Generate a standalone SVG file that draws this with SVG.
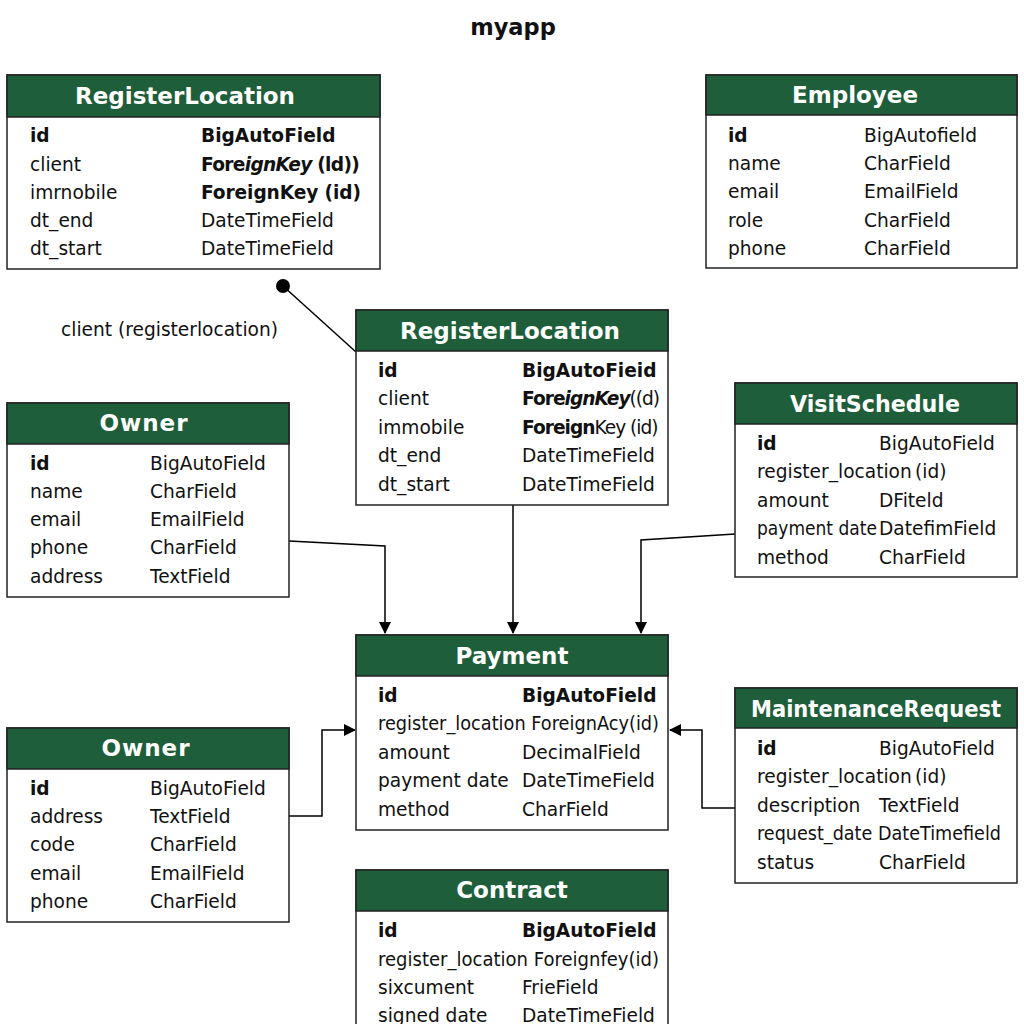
<svg xmlns="http://www.w3.org/2000/svg" width="1024" height="1024" viewBox="0 0 1024 1024">
  <defs>
    <marker id="arrow" viewBox="0 0 12 12" refX="11" refY="6" markerWidth="12" markerHeight="12" markerUnits="userSpaceOnUse" orient="auto">
      <path d="M0,0 L12,6 L0,12 Z" fill="#000"/>
    </marker>
    <style>
      text { font-family: "DejaVu Sans", "Liberation Sans", sans-serif; fill: #111; }
      .box { fill: #fff; stroke: #222; stroke-width: 1.5; }
      .head { fill: #1e5e3a; stroke: #222; stroke-width: 1.5; }
      .title { font-size: 23px; font-weight: bold; fill: #fff; text-anchor: middle; }
      .row { font-size: 18.6px; }
      .b { font-weight: bold; }
      .bi { font-weight: bold; font-style: italic; }
      .edge { fill: none; stroke: #000; stroke-width: 1.5; }
    </style>
  </defs>
  <rect width="1024" height="1024" fill="#fff"/>

  <text x="513" y="35" text-anchor="middle" font-size="22.5" font-weight="bold">myapp</text>

  <!-- connectors -->
  <g id="connectors">
    <line class="edge" x1="283" y1="286" x2="356" y2="352"/>
    <circle cx="283" cy="286" r="7" fill="#000"/>
    <text class="row" x="61" y="336">client (registerlocation)</text>
    <polyline class="edge" points="289,541 385,546 385,633" marker-end="url(#arrow)"/>
    <polyline class="edge" points="513,505 513,633" marker-end="url(#arrow)"/>
    <polyline class="edge" points="735,534 641,540 641,633" marker-end="url(#arrow)"/>
    <polyline class="edge" points="289,816 322,816 322,730 355,730" marker-end="url(#arrow)"/>
    <polyline class="edge" points="735,808 702,808 702,730 670,730" marker-end="url(#arrow)"/>
  </g>

  <!-- RegisterLocation (top left) -->
  <g id="registerlocation-a">
    <rect class="box" x="7" y="75" width="373" height="194"/>
    <rect class="head" x="7" y="75" width="373" height="42"/>
    <text class="title" x="185" y="104">RegisterLocation</text>
    <text class="row b" x="30" y="142">id</text>
    <text class="row b" x="201" y="142">BigAutoField</text>
    <text class="row" x="30" y="171">client</text>
    <text class="row" x="201" y="171" letter-spacing="-0.7"><tspan class="b">Fore</tspan><tspan class="bi">ignKey</tspan><tspan class="b"> (ld))</tspan></text>
    <text class="row" x="30" y="199">imrnobile</text>
    <text class="row b" x="201" y="199" letter-spacing="-0.1">ForeignKey (id)</text>
    <text class="row" x="30" y="227">dt_end</text>
    <text class="row" x="201" y="227">DateTimeField</text>
    <text class="row" x="30" y="255">dt_start</text>
    <text class="row" x="201" y="255">DateTimeField</text>
  </g>

  <!-- Employee -->
  <g id="employee">
    <rect class="box" x="706" y="75" width="311" height="193"/>
    <rect class="head" x="706" y="75" width="311" height="40"/>
    <text class="title" x="855" y="103">Employee</text>
    <text class="row b" x="728" y="142">id</text>
    <text class="row" x="864" y="142">BigAutofield</text>
    <text class="row" x="728" y="170">name</text>
    <text class="row" x="864" y="170">CharField</text>
    <text class="row" x="728" y="198">email</text>
    <text class="row" x="864" y="198">EmailField</text>
    <text class="row" x="728" y="227">role</text>
    <text class="row" x="864" y="227">CharField</text>
    <text class="row" x="728" y="255">phone</text>
    <text class="row" x="864" y="255">CharField</text>
  </g>

  <!-- RegisterLocation (centre) -->
  <g id="registerlocation-b">
    <rect class="box" x="356" y="310" width="312" height="195"/>
    <rect class="head" x="356" y="310" width="312" height="41"/>
    <text class="title" x="510" y="339">RegisterLocation</text>
    <text class="row b" x="378" y="377">id</text>
    <text class="row b" x="522" y="377">BigAutoFieid</text>
    <text class="row" x="378" y="405">client</text>
    <text class="row" x="522" y="405" letter-spacing="-1"><tspan class="b">Fore</tspan><tspan class="bi">ignKey</tspan><tspan>((d)</tspan></text>
    <text class="row" x="378" y="434">immobile</text>
    <text class="row" x="522" y="434" letter-spacing="-1"><tspan class="b">Foreign</tspan><tspan>Key (id)</tspan></text>
    <text class="row" x="378" y="462">dt_end</text>
    <text class="row" x="522" y="462">DateTimeField</text>
    <text class="row" x="378" y="491">dt_start</text>
    <text class="row" x="522" y="491">DateTimeField</text>
  </g>

  <!-- VisitSchedule -->
  <g id="visitschedule">
    <rect class="box" x="735" y="383" width="282" height="194"/>
    <rect class="head" x="735" y="383" width="282" height="41"/>
    <text class="title" x="875" y="412" textLength="170" lengthAdjust="spacingAndGlyphs">VisitSchedule</text>
    <text class="row b" x="757" y="450">id</text>
    <text class="row" x="879" y="450">BigAutoField</text>
    <text class="row" x="757" y="478">register_location</text>
    <text class="row" x="915" y="478">(id)</text>
    <text class="row" x="757" y="507">amount</text>
    <text class="row" x="879" y="507">DFiteld</text>
    <text class="row" x="757" y="535" textLength="120" lengthAdjust="spacingAndGlyphs">payment date</text>
    <text class="row" x="879" y="535">DatefimField</text>
    <text class="row" x="757" y="564">method</text>
    <text class="row" x="879" y="564">CharField</text>
  </g>

  <!-- Owner (upper) -->
  <g id="owner-a">
    <rect class="box" x="7" y="403" width="282" height="194"/>
    <rect class="head" x="7" y="403" width="282" height="41"/>
    <text class="title" x="144" y="431" letter-spacing="1">Owner</text>
    <text class="row b" x="30" y="470">id</text>
    <text class="row" x="150" y="470">BigAutoField</text>
    <text class="row" x="30" y="498">name</text>
    <text class="row" x="150" y="498">CharField</text>
    <text class="row" x="30" y="526">email</text>
    <text class="row" x="150" y="526">EmailField</text>
    <text class="row" x="30" y="554">phone</text>
    <text class="row" x="150" y="554">CharField</text>
    <text class="row" x="30" y="583">address</text>
    <text class="row" x="150" y="583">TextField</text>
  </g>

  <!-- Payment -->
  <g id="payment">
    <rect class="box" x="356" y="635" width="312" height="195"/>
    <rect class="head" x="356" y="635" width="312" height="41"/>
    <text class="title" x="512" y="664">Payment</text>
    <text class="row b" x="378" y="702">id</text>
    <text class="row b" x="522" y="702">BigAutoField</text>
    <text class="row" x="378" y="730" textLength="281" lengthAdjust="spacingAndGlyphs">register_location ForeignAcy(id)</text>
    <text class="row" x="378" y="759">amount</text>
    <text class="row" x="522" y="759">DecimalField</text>
    <text class="row" x="378" y="787">payment date</text>
    <text class="row" x="522" y="787">DateTimeField</text>
    <text class="row" x="378" y="816">method</text>
    <text class="row" x="522" y="816">CharField</text>
  </g>

  <!-- MaintenanceRequest -->
  <g id="maintenancerequest">
    <rect class="box" x="735" y="688" width="282" height="195"/>
    <rect class="head" x="735" y="688" width="282" height="40"/>
    <text class="title" x="876" y="717" textLength="250" lengthAdjust="spacingAndGlyphs">MaintenanceRequest</text>
    <text class="row b" x="757" y="755">id</text>
    <text class="row" x="879" y="755">BigAutoField</text>
    <text class="row" x="757" y="783">register_location</text>
    <text class="row" x="915" y="783">(id)</text>
    <text class="row" x="757" y="812">description</text>
    <text class="row" x="879" y="812">TextField</text>
    <text class="row" x="757" y="840" textLength="244" lengthAdjust="spacingAndGlyphs">request_date DateTimefield</text>
    <text class="row" x="757" y="869">status</text>
    <text class="row" x="879" y="869">CharField</text>
  </g>

  <!-- Owner (lower) -->
  <g id="owner-b">
    <rect class="box" x="7" y="728" width="282" height="194"/>
    <rect class="head" x="7" y="728" width="282" height="41"/>
    <text class="title" x="146" y="756" letter-spacing="1">Owner</text>
    <text class="row b" x="30" y="795">id</text>
    <text class="row" x="150" y="795">BigAutoField</text>
    <text class="row" x="30" y="823">address</text>
    <text class="row" x="150" y="823">TextField</text>
    <text class="row" x="30" y="851">code</text>
    <text class="row" x="150" y="851">CharField</text>
    <text class="row" x="30" y="880">email</text>
    <text class="row" x="150" y="880">EmailField</text>
    <text class="row" x="30" y="908">phone</text>
    <text class="row" x="150" y="908">CharField</text>
  </g>

  <!-- Contract -->
  <g id="contract">
    <rect class="box" x="356" y="870" width="312" height="170"/>
    <rect class="head" x="356" y="870" width="312" height="41"/>
    <text class="title" x="512" y="898">Contract</text>
    <text class="row b" x="378" y="937">id</text>
    <text class="row b" x="522" y="937">BigAutoField</text>
    <text class="row" x="378" y="966" textLength="281" lengthAdjust="spacingAndGlyphs">register_location Foreignfey(id)</text>
    <text class="row" x="378" y="994">sixcument</text>
    <text class="row" x="522" y="994">FrieField</text>
    <text class="row" x="378" y="1022">signed date</text>
    <text class="row" x="522" y="1022">DateTimeField</text>
  </g>
</svg>
